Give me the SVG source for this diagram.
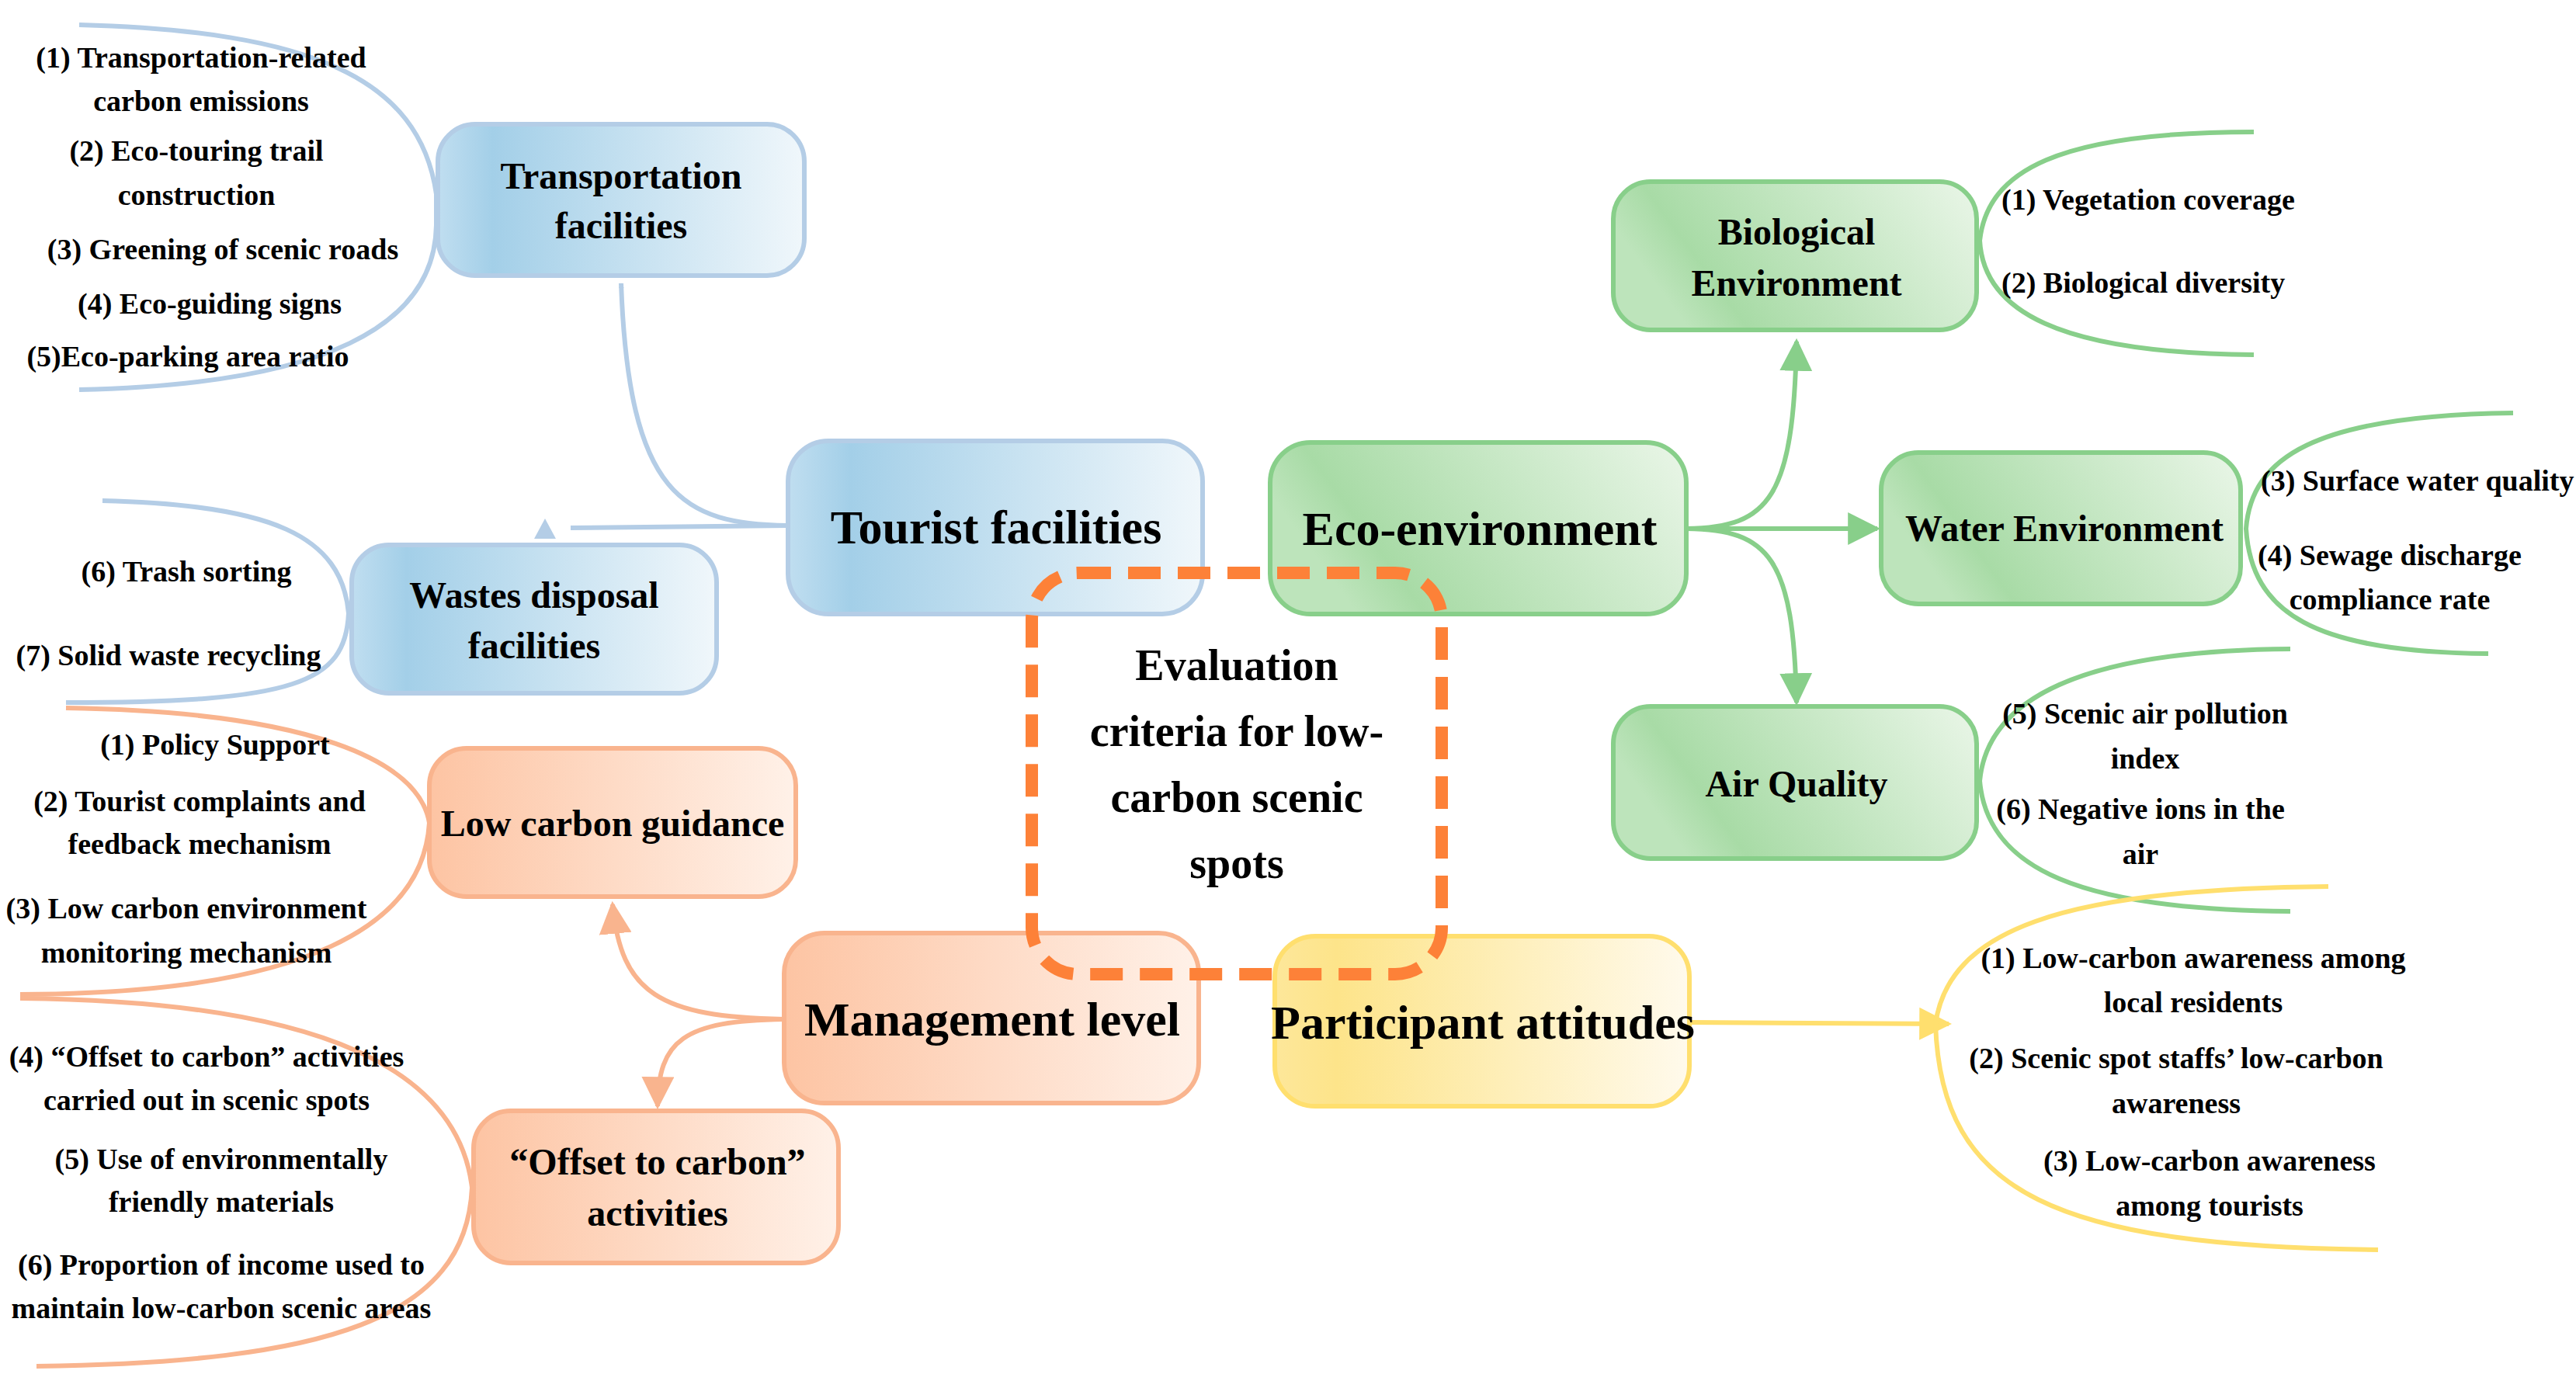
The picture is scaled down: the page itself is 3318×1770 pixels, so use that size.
<svg xmlns="http://www.w3.org/2000/svg" width="3318" height="1770" viewBox="0 0 3318 1770">
<style>
text{font-family:"Liberation Serif","Times New Roman",serif;font-weight:bold;text-anchor:middle;fill:#000}
.s{font-size:38px}
.n{font-size:48px}
.b{font-size:62px}
.c{font-size:56px}
.st{text-anchor:start}
.box{stroke-width:6}
.bl{stroke:#b4cde6;fill:none;stroke-width:6}
.gr{stroke:#88cf8a;fill:none;stroke-width:6}
.or{stroke:#f9b48e;fill:none;stroke-width:6}
.ye{stroke:#ffdf6e;fill:none;stroke-width:6}
</style>
<defs>
<linearGradient id="gb" x1="0" x2="1" y1="0" y2="0"><stop offset="0" stop-color="#c0def0"/><stop offset="0.15" stop-color="#a3cfe8"/><stop offset="1" stop-color="#f0f7fb"/></linearGradient>
<linearGradient id="gg" x1="0" x2="1" y1="0.3" y2="0"><stop offset="0" stop-color="#bde4bb"/><stop offset="0.15" stop-color="#a8dba6"/><stop offset="1" stop-color="#eaf6e8"/></linearGradient>
<linearGradient id="go" x1="0" x2="1" y1="0" y2="0"><stop offset="0" stop-color="#fdc4a3"/><stop offset="1" stop-color="#fff1e8"/></linearGradient>
<linearGradient id="gy" x1="0" x2="1" y1="0" y2="0"><stop offset="0" stop-color="#fde79a"/><stop offset="0.15" stop-color="#fde48a"/><stop offset="1" stop-color="#fffaec"/></linearGradient>
<marker id="ab" viewBox="0 0 10 10" refX="9" refY="5" markerWidth="7" markerHeight="7" orient="auto" markerUnits="userSpaceOnUse"><path d="M0,0 L10,5 L0,10 z" fill="#b4cde6"/></marker>
<marker id="ag" viewBox="0 0 10 10" refX="9" refY="5" markerWidth="7" markerHeight="7" orient="auto" markerUnits="strokeWidth"><path d="M0,0 L10,5 L0,10 z" fill="#88cf8a"/></marker>
<marker id="ao" viewBox="0 0 10 10" refX="9" refY="5" markerWidth="7" markerHeight="7" orient="auto" markerUnits="strokeWidth"><path d="M0,0 L10,5 L0,10 z" fill="#f9b48e"/></marker>
<marker id="ay" viewBox="0 0 10 10" refX="9" refY="5" markerWidth="7" markerHeight="7" orient="auto" markerUnits="strokeWidth"><path d="M0,0 L10,5 L0,10 z" fill="#ffdf6e"/></marker>
</defs>
<rect width="3318" height="1770" fill="#fff"/>
<g id="connectors">
<path class="bl" d="M1015,677 C880,675 810,640 800,365" marker-end="url(#ab)" style="stroke-width:6" />
<path d="M1015,677 L735,680" class="bl"/>
<polygon points="702,668 688,694 716,694" fill="#b4cde6"/>
<path class="gr" d="M2172,681 C2280,680 2310,640 2314,440" marker-end="url(#ag)"/>
<path class="gr" d="M2172,681 L2418,681" marker-end="url(#ag)"/>
<path class="gr" d="M2172,681 C2280,682 2310,720 2314,905" marker-end="url(#ag)"/>
<path class="or" d="M1010,1313 C850,1310 800,1280 789,1165" marker-end="url(#ao)"/>
<path class="or" d="M1010,1313 C880,1315 848,1340 847,1425" marker-end="url(#ao)"/>
<path class="ye" d="M2176,1317 L2510,1319" marker-end="url(#ay)"/>
<path class="bl" d="M102,32 C400,40 540,100 562,250 L562,290 C560,420 420,495 102,502"/>
<path class="bl" d="M132,645 C350,650 440,690 449,790 C445,880 380,905 85,905"/>
<path class="or" d="M85,912 C400,917 540,980 553,1060 C545,1190 400,1280 26,1281"/>
<path class="or" d="M26,1286 C420,1290 590,1380 608,1530 C600,1700 420,1755 47,1760"/>
<path class="gr" d="M2903,170 C2650,170 2560,220 2550,310 C2555,400 2650,455 2903,457"/>
<path class="gr" d="M3237,532 C2980,535 2900,590 2893,681 C2900,790 2980,840 3205,842"/>
<path class="gr" d="M2950,836 C2680,838 2560,900 2550,1006 C2560,1120 2680,1172 2950,1174"/>
<path class="ye" d="M2999,1142 C2650,1145 2510,1200 2493,1319 C2500,1540 2650,1605 3063,1610"/>
</g>
<g id="transportation"><rect class="box" x="564" y="160" width="472" height="195" rx="48" fill="url(#gb)" stroke="#b4cde6"/><text class="n" x="800" y="243">Transportation</text><text class="n" x="800" y="307">facilities</text></g>
<g id="tourist"><rect class="box" x="1015" y="568" width="534" height="223" rx="52" fill="url(#gb)" stroke="#b4cde6"/><text class="b" x="1283" y="700">Tourist facilities</text></g>
<g id="wastes"><rect class="box" x="453" y="702" width="470" height="191" rx="48" fill="url(#gb)" stroke="#b4cde6"/><text class="n" x="688" y="783">Wastes disposal</text><text class="n" x="688" y="848">facilities</text></g>
<g id="eco"><rect class="box" x="1636" y="570" width="536" height="221" rx="52" fill="url(#gg)" stroke="#88cf8a"/><text class="b" x="1906" y="702">Eco-environment</text></g>
<g id="bio"><rect class="box" x="2078" y="234" width="468" height="191" rx="48" fill="url(#gg)" stroke="#88cf8a"/><text class="n" x="2314" y="315">Biological</text><text class="n" x="2314" y="381">Environment</text></g>
<g id="water"><rect class="box" x="2423" y="583" width="463" height="195" rx="48" fill="url(#gg)" stroke="#88cf8a"/><text class="n" x="2659" y="697">Water Environment</text></g>
<g id="air"><rect class="box" x="2078" y="910" width="468" height="196" rx="48" fill="url(#gg)" stroke="#88cf8a"/><text class="n" x="2314" y="1026">Air Quality</text></g>
<g id="lowcarbon"><rect class="box" x="553" y="964" width="472" height="191" rx="48" fill="url(#go)" stroke="#f9b48e"/><text class="n" x="789" y="1077">Low carbon guidance</text></g>
<g id="management"><rect class="box" x="1010" y="1202" width="534" height="219" rx="52" fill="url(#go)" stroke="#f9b48e"/><text class="b" x="1278" y="1334">Management level</text></g>
<g id="offset"><rect class="box" x="610" y="1431" width="470" height="196" rx="48" fill="url(#go)" stroke="#f9b48e"/><text class="n" x="847" y="1513">“Offset to carbon”</text><text class="n" x="847" y="1579">activities</text></g>
<g id="participant"><rect class="box" x="1642" y="1206" width="534" height="219" rx="52" fill="url(#gy)" stroke="#ffdf6e"/><text class="b" x="1910" y="1338">Participant attitudes</text></g>
<g id="center"><rect x="1329" y="738" width="528" height="517" rx="60" fill="none" stroke="#fd8138" stroke-width="16" stroke-dasharray="42 22"/>
<text class="c" x="1593" y="876">Evaluation</text><text class="c" x="1593" y="961">criteria for low-</text><text class="c" x="1593" y="1046">carbon scenic</text><text class="c" x="1593" y="1131">spots</text></g>
<g id="lists">
<text class="s" x="259" y="87">(1) Transportation-related</text>
<text class="s" x="259" y="143">carbon emissions</text>
<text class="s" x="253" y="207">(2) Eco-touring trail</text>
<text class="s" x="253" y="264">construction</text>
<text class="s" x="287" y="334">(3) Greening of scenic roads</text>
<text class="s" x="270" y="404">(4) Eco-guiding signs</text>
<text class="s" x="242" y="472">(5)Eco-parking area ratio</text>
<text class="s" x="240" y="749">(6) Trash sorting</text>
<text class="s" x="217" y="857">(7) Solid waste recycling</text>
<text class="s" x="277" y="972">(1) Policy Support</text>
<text class="s" x="257" y="1045">(2) Tourist complaints and</text>
<text class="s" x="257" y="1100">feedback mechanism</text>
<text class="s" x="240" y="1183">(3) Low carbon environment</text>
<text class="s" x="240" y="1240">monitoring mechanism</text>
<text class="s" x="266" y="1374">(4) “Offset to carbon” activities</text>
<text class="s" x="266" y="1430">carried out in scenic spots</text>
<text class="s" x="285" y="1506">(5) Use of environmentally</text>
<text class="s" x="285" y="1561">friendly materials</text>
<text class="s" x="285" y="1642">(6) Proportion of income used to</text>
<text class="s" x="285" y="1698">maintain low-carbon scenic areas</text>
<text class="s st" x="2578" y="270">(1) Vegetation coverage</text>
<text class="s st" x="2578" y="377">(2) Biological diversity</text>
<text class="s st" x="2912" y="632">(3) Surface water quality</text>
<text class="s st" x="2908" y="728">(4) Sewage discharge</text>
<text class="s" x="3078" y="785">compliance rate</text>
<text class="s" x="2763" y="932">(5) Scenic air pollution</text>
<text class="s" x="2763" y="990">index</text>
<text class="s" x="2757" y="1055">(6) Negative ions in the</text>
<text class="s" x="2757" y="1113">air</text>
<text class="s" x="2825" y="1247">(1) Low-carbon awareness among</text>
<text class="s" x="2825" y="1304">local residents</text>
<text class="s" x="2803" y="1376">(2) Scenic spot staffs’ low-carbon</text>
<text class="s" x="2803" y="1434">awareness</text>
<text class="s" x="2846" y="1508">(3) Low-carbon awareness</text>
<text class="s" x="2846" y="1566">among tourists</text>
</g>
</svg>
